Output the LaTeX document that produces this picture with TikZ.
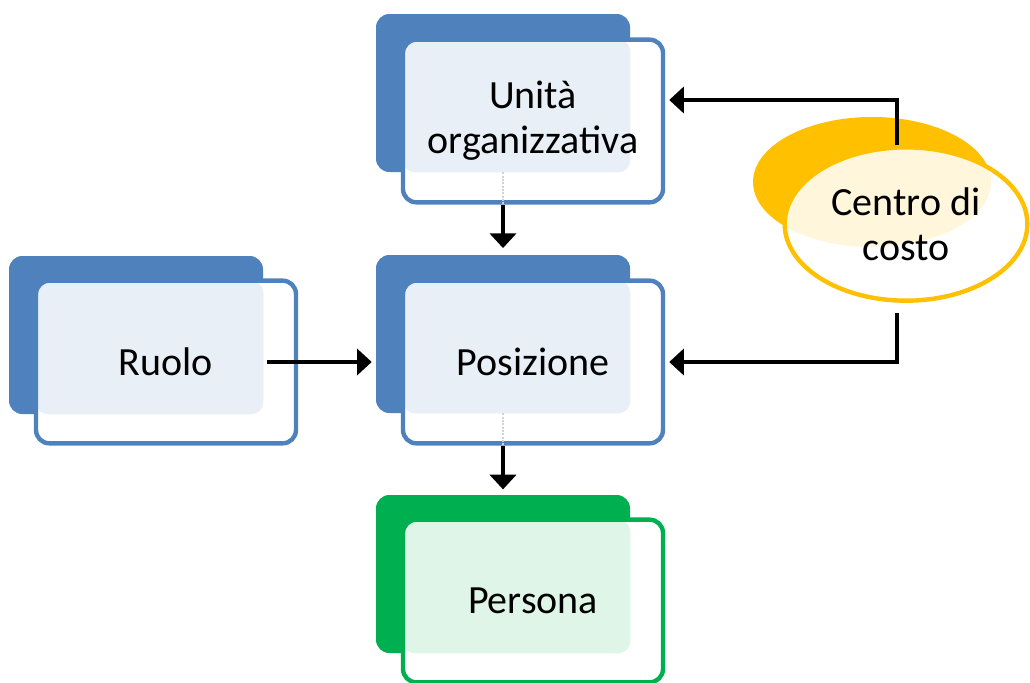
\documentclass[tikz,border=0pt]{standalone}
\usepackage{fontspec}
\setmainfont{Carlito}
\usetikzlibrary{shapes.geometric,arrows.meta}
\definecolor{cblue}{HTML}{4F81BD}
\definecolor{cgreen}{HTML}{00B050}
\definecolor{cyellow}{HTML}{FFC000}

\begin{document}
\begin{tikzpicture}[x=0.75pt,y=-0.75pt,
  label font/.style={font=\fontsize{30}{34}\selectfont, align=center, text=black},
  backbox/.style={rectangle, rounded corners=10pt, minimum width=190.5pt,
    minimum height=118.5pt, inner sep=0pt, fill=#1},
  frontbox/.style 2 args={rectangle, rounded corners=10pt, minimum width=195pt,
    minimum height=122pt, inner sep=0pt, fill=white, draw=#1, line width=3.3pt,
    label font,
    path picture={\fill[#1!13, rounded corners=9pt]
      (path picture bounding box.north west) rectangle (#2.south east);}},
  backell/.style={ellipse, minimum width=178.5pt, minimum height=97.5pt,
    inner sep=0pt, fill=cyellow},
  frontell/.style={ellipse, minimum width=182pt, minimum height=115pt,
    inner sep=0pt, fill=white, draw=cyellow, line width=3.3pt, label font,
    path picture={\node[ellipse, minimum width=178.5pt, minimum height=97.5pt,
      inner sep=0pt, fill=cyellow!14] at (#1.center) {};}},
  arr/.style={line width=3.7pt, line join=miter,
    -{Triangle[width=19.5pt,length=11pt]}},
  ghost/.style={gray!35, line width=1.5pt, densely dotted}]

\useasboundingbox (0,0) rectangle (1030,682);

% organisational unit
\node[backbox=cblue] (uoback) at (503,93) {};
\node[frontbox={cblue}{uoback}] (uo) at (533,121) {Unità\\organizzativa};

% position
\node[backbox=cblue] (posback) at (503,334) {};
\node[frontbox={cblue}{posback}] (pos) at (533,362) {Posizione};

% role
\node[backbox=cblue] (ruoloback) at (136,335) {};
\node[frontbox={cblue}{ruoloback}] (ruolo) at (166,362) {Ruolo};

% person
\node[backbox=cgreen] (persback) at (503,574) {};
\node[frontbox={cgreen}{persback}] (pers) at (533,601) {Persona};

% cost centre
\node[backell] (ccback) at (872,182) {};
\node[frontell=ccback] (cc) at (906,224) {Centro di\\costo};

% connectors
\draw[ghost] (uoback.south) -- (uoback.south |- uo.south);
\draw[ghost] (posback.south) -- (posback.south |- pos.south);
\draw[arr, shorten >=5pt] (uoback.south |- uo.south) -- (posback.north);
\draw[arr, shorten >=4pt] (posback.south |- pos.south) -- (persback.north);
\draw[arr, shorten <=3pt, shorten >=3pt]
  (ruoloback.east |- ruolo.center) -- (posback.west |- ruolo.center);
\draw[arr] ([shift={(-9,0)}]cc.north) |- ([shift={(4,-21)}]uo.east);
\draw[arr] ([shift={(-9,10)}]cc.south) |- ([shift={(4,0)}]pos.east);
\end{tikzpicture}
\end{document}
